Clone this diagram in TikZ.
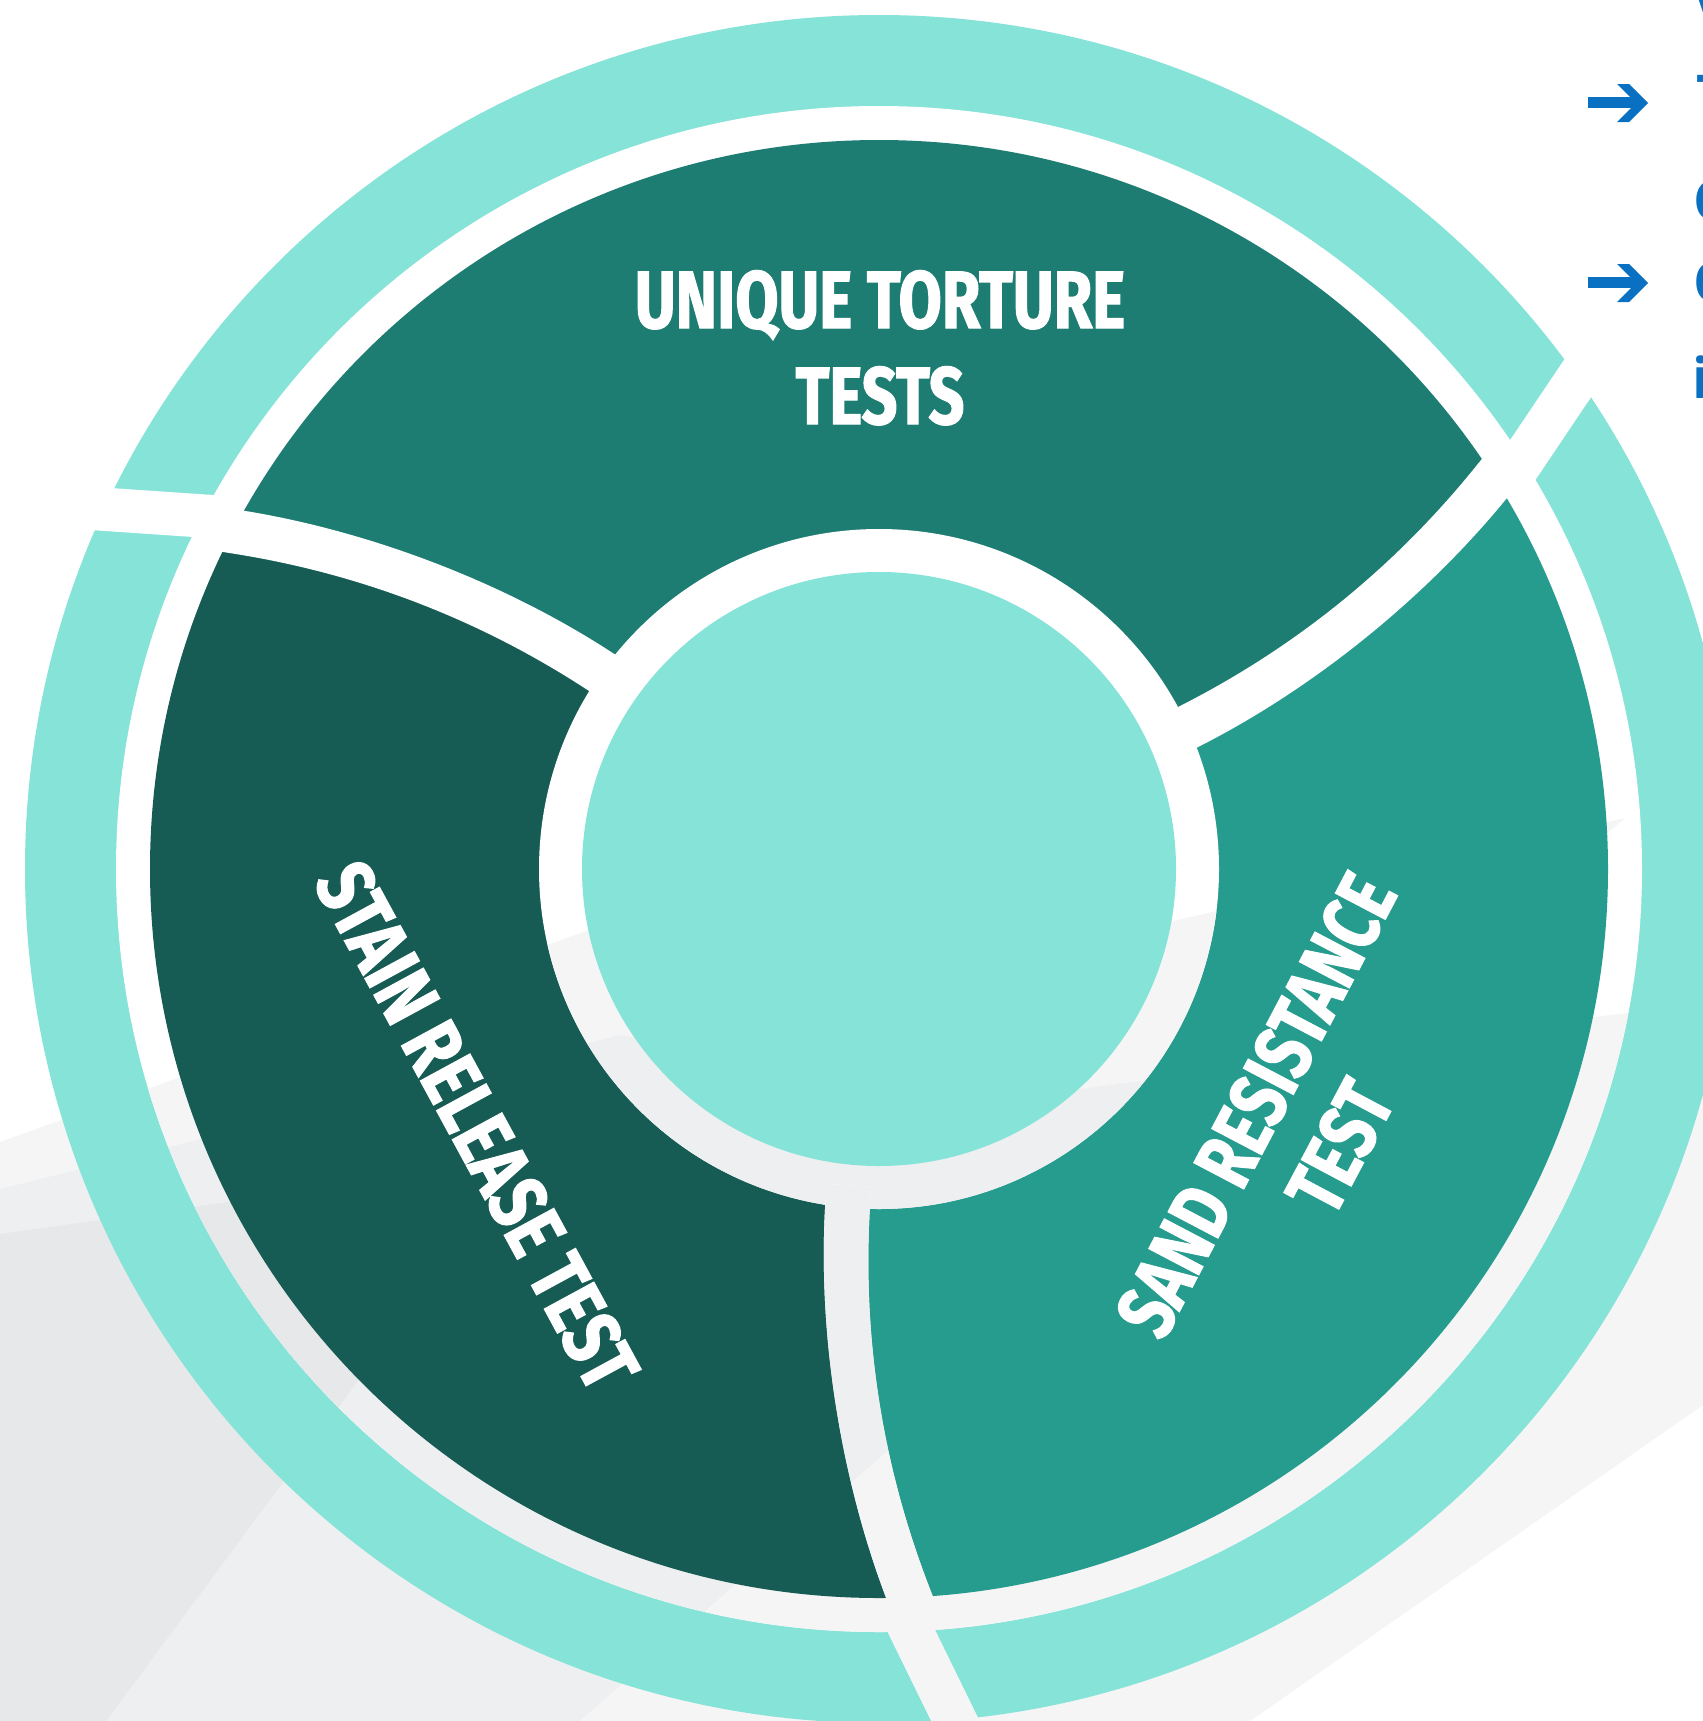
\documentclass[tikz,border=0pt]{standalone}
\usepackage{fontspec}
\newfontfamily\labfont{Fira Sans}[FakeStretch=0.77, FakeBold=1.5]
\newfontfamily\bluefont{Open Sans}
\definecolor{ringteal}{HTML}{85E3D8}
\definecolor{secTop}{HTML}{1E7D72}
\definecolor{secLeft}{HTML}{165C55}
\definecolor{secRight}{HTML}{269C8F}
\definecolor{bgA}{HTML}{F5F5F5}
\definecolor{bgB}{HTML}{EEEFF0}
\definecolor{bgC}{HTML}{E7E8E9}
\definecolor{arrowblue}{HTML}{0A70C2}
\newcommand\bgpaint{%
  \fill[white] (0,0) rectangle (1703,1721);
  \fill[bgA] (0,1142) -- (700,890) -- (1173,921) -- (1625,818) -- (1352,1052) -- (1000,1100) -- (620,1035) -- (0,1189) -- cycle;
  \fill[bgB] (0,1189) -- (620,1035) -- (1000,1100) -- (1352,1052) -- (883,1455) -- (850,1484) -- (580,1721) -- (0,1721) -- cycle;
  \fill[bgC] (0,1234) -- (521,1161) -- (106,1721) -- (0,1721) -- cycle;
  \fill[bgA] (1352,1052) -- (1610,1015) -- (1703,1005) -- (1703,1405) -- (1250,1721) -- (580,1721) -- (850,1484) -- (883,1455) -- cycle;
}
\newcommand\gapclip[1]{%
  \clip[rotate around={#1:(C)}]
    (1178,757) -- (1198,747) .. controls (1315,688) and (1429,595) .. (1511,493) -- (1524,477)
    -- (1490,449) -- (1477,465) .. controls (1395,567) and (1295,648) .. (1178,707) -- (1158,717) -- cycle
    (1532,485) -- (1610,369) -- (1574,345) -- (1496,461) -- cycle;
}
\tikzset{
  lab/.style={text=white, inner sep=0pt, font={\labfont\bfseries\fontsize{23.1}{27}\selectfont}},
  bt/.style={anchor=base west, inner sep=0pt, text=arrowblue, font={\bluefont\bfseries\fontsize{16}{16}\selectfont}}
}
\begin{document}
\begin{tikzpicture}[x=0.01cm, y=-0.01cm]
\useasboundingbox (0,0) rectangle (1703,1721);
\clip (0,0) rectangle (1703,1721);
\coordinate (C) at (879,869);
\foreach \rr/\gi in {0/2,120/1,240/3} {
  \path[rotate around={\rr:(C)}] (1188,727) coordinate (p\gi) (1305,668) coordinate (q\gi)
     (1412,581) coordinate (s\gi) (1494,479) coordinate (t\gi) (1600,350) coordinate (f\gi);
}
% background
\bgpaint
% outer ring
\fill[ringteal] (C) circle (854);
\begin{scope}
  \clip (C) circle (763);
  \bgpaint
\end{scope}
% sectors
\begin{scope}
  \clip (C) circle (729);
  \fill[secTop] (p2) .. controls (q2) and (s2) .. (t2) -- (f2) -- (879,-150) -- (f1) -- (t1) .. controls (s1) and (q1) .. (p1) -- (C) -- cycle;
  \fill[secRight] (p3) .. controls (q3) and (s3) .. (t3) -- (f3) -- (1745,1369) -- (f2) -- (t2) .. controls (s2) and (q2) .. (p2) -- (C) -- cycle;
  \fill[secLeft] (p1) .. controls (q1) and (s1) .. (t1) -- (f1) -- (13,1369) -- (f3) -- (t3) .. controls (s3) and (q3) .. (p3) -- (C) -- cycle;
\end{scope}
\begin{scope}
  \clip (C) circle (340);
  \bgpaint
\end{scope}
\fill[ringteal] (C) circle (297);
% gaps
\foreach \rr in {0,120,240} {
  \begin{scope}
    \gapclip{\rr}
    \bgpaint
  \end{scope}
}
% labels
\node[lab, anchor=base] (ut1) at (880,328) {UNIQUE TORTURE};
\node[lab, anchor=base] (ut2) at (880,424) {TESTS};
\node[lab, rotate=-61.5] (srt) at (477,1126) {\scalebox{1.03}[1]{STAIN RELEASE TEST}};
\node[lab, rotate=62.3] (sr1) at (1256,1105) {SAND RESISTANCE};
\node[lab, rotate=62.0] (sr2) at (1340,1147) {TEST};
% right column (cut off)
\foreach \dy in {0,180} {
  \fill[arrowblue] (1588,97+\dy) rectangle (1640,108+\dy);
  \fill[arrowblue] (1617,84+\dy) -- (1629,84+\dy) -- (1648,103+\dy) -- (1629,122+\dy) -- (1617,122+\dy) -- (1636,103+\dy) -- cycle;
}
\node[bt] (b1) at (1697,35) {V};
\node[bt] (b2) at (1696,115) {T};
\node[bt] (b3) at (1693,220) {C};
\node[bt] (b4) at (1693,302) {O};
\node[bt] (b5) at (1692,398) {i};
\end{tikzpicture}
\end{document}
